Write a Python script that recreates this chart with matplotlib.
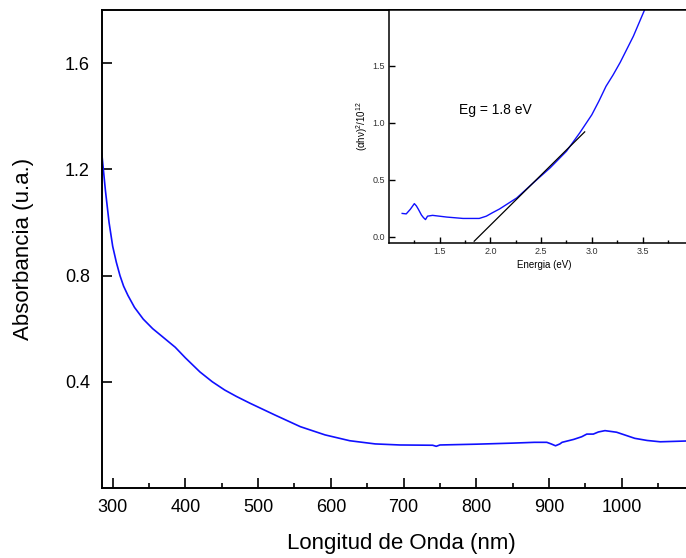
""" Absorbancia vs longitud de onda con inserto de Tauc """

import numpy as np
import matplotlib
matplotlib.use('Agg')
import matplotlib.pyplot as plt
from matplotlib.ticker import MultipleLocator

plt.rcParams['font.family'] = ['Liberation Sans', 'DejaVu Sans']
plt.rcParams['mathtext.fontset'] = 'custom'
plt.rcParams['mathtext.rm'] = 'Liberation Sans'
plt.rcParams['mathtext.it'] = 'Liberation Sans'

# Espectro de absorbancia
longitud = [285, 290, 295, 300, 305, 310, 315, 321, 330, 342, 355, 367, 386,
            400, 420, 437, 454, 470, 489, 523, 558, 592, 626, 661, 695, 740,
            745, 750, 800, 850, 880, 897, 903, 909, 915, 918, 934, 945, 952,
            961, 968, 977, 993, 1005, 1018, 1035, 1053, 1089]
absorbancia = [1.26, 1.12, 1.0, 0.91, 0.85, 0.80, 0.76, 0.725, 0.68, 0.636,
               0.60, 0.573, 0.53, 0.49, 0.437, 0.40, 0.369, 0.345, 0.319,
               0.275, 0.231, 0.20, 0.178, 0.166, 0.162, 0.161, 0.157, 0.162,
               0.165, 0.169, 0.172, 0.172, 0.166, 0.159, 0.166, 0.172, 0.183,
               0.193, 0.203, 0.203, 0.211, 0.216, 0.21, 0.199, 0.187, 0.179,
               0.174, 0.177]

# Grafico de Tauc (inserto)
energia = [1.13, 1.17, 1.21, 1.25, 1.27, 1.29, 1.32, 1.34, 1.36, 1.38, 1.43,
           1.57, 1.73, 1.89, 1.96, 2.02, 2.09, 2.16, 2.26, 2.42, 2.59, 2.75,
           2.88, 3.0, 3.07, 3.14, 3.21, 3.28, 3.41, 3.52]
tauc = [0.204, 0.20, 0.24, 0.29, 0.27, 0.24, 0.19, 0.167, 0.15, 0.18, 0.187,
        0.172, 0.16, 0.16, 0.18, 0.21, 0.243, 0.283, 0.34, 0.47, 0.605, 0.75,
        0.91, 1.07, 1.19, 1.32, 1.42, 1.53, 1.76, 1.99]

# Recta de ajuste
recta_x = [1.84, 2.93]
recta_y = [-0.04, 0.92]

fig = plt.figure(figsize=(6.86, 5.58), dpi=100)

# Grafico principal
ax = fig.add_axes([102.3 / 686, 70 / 558, (700 - 102.3) / 686, 478 / 558])
ax.plot(longitud, absorbancia, color='#1010ff', lw=1.2)
ax.set_xlim(285.7, 1107.7)
ax.set_ylim(0, 1.8)
ax.set_xticks([300, 400, 500, 600, 700, 800, 900, 1000])
ax.set_yticks([0.4, 0.8, 1.2, 1.6])
ax.set_yticklabels(['0.4', '0.8', '1.2', '1.6'])
ax.xaxis.set_minor_locator(MultipleLocator(50))
ax.tick_params(which='major', direction='in', length=7, width=1.2,
               labelsize=13, pad=8)
ax.tick_params(which='minor', direction='in', length=3.5, width=1.2)
ax.tick_params(axis='y', pad=9)
for s in ax.spines.values():
    s.set_linewidth(1.4)
ax.set_xlabel('Longitud de Onda (nm)', fontsize=16, labelpad=12)
ax.set_ylabel('Absorbancia (u.a.)', fontsize=16, labelpad=22)

# Inserto
ins = fig.add_axes([389.3 / 686, (558 - 242.7) / 558, (700 - 389.3) / 686,
                    232.7 / 558])
ins.plot(energia, tauc, color='#1010ff', lw=1.0)
ins.plot(recta_x, recta_y, color='black', lw=0.9)
ins.set_xlim(1.003, 4.067)
ins.set_ylim(-0.053, 1.99)
ins.set_xticks([1.5, 2.0, 2.5, 3.0, 3.5])
ins.set_yticks([0.0, 0.5, 1.0, 1.5])
ins.xaxis.set_minor_locator(MultipleLocator(0.25))
ins.tick_params(which='major', direction='in', length=4, width=1.0,
                labelsize=6.5, pad=3, labelcolor='#333333')
ins.tick_params(which='minor', direction='in', length=2, width=1.0)
for s in ins.spines.values():
    s.set_linewidth(1.1)
ins.set_xlabel('Energia (eV)', fontsize=7, labelpad=3)
ins.set_ylabel(r'($\alpha$h$\nu$)$^2$/10$^{12}$', fontsize=7, labelpad=2)
ins.text(2.05, 1.11, 'Eg = 1.8 eV', fontsize=10, ha='center', va='center')

plt.savefig('out.png', dpi=100)
